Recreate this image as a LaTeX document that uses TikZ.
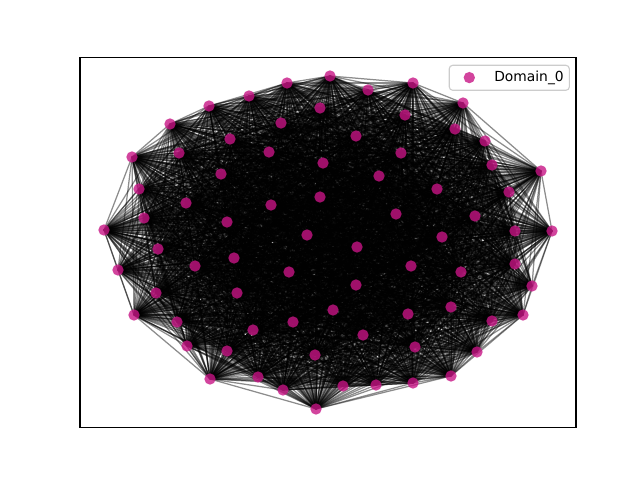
\documentclass[tikz,border=0pt]{standalone}
\usepackage{fontspec}
\setmainfont{DejaVu Sans}
\usetikzlibrary{backgrounds}
\definecolor{mvr}{RGB}{199,21,133}
\definecolor{legedge}{RGB}{204,204,204}
\tikzset{
  dot/.style={circle, fill=mvr, fill opacity=0.8, draw=none, minimum size=8.2pt, inner sep=0pt},
  edge/.style={black, opacity=0.45, line width=0.9pt},
  frame/.style={black, line width=0.8pt},
  legbox/.style={draw=legedge, line width=0.8pt, fill=white, fill opacity=0.8, rounded corners=2.5pt, minimum width=1.2in, minimum height=0.25in, inner sep=0pt},
  legtext/.style={font=\fontsize{10}{12}\selectfont, inner sep=0pt, anchor=west}
}
\begin{document}
\begin{tikzpicture}[x=0.01in, y=-0.01in]
\useasboundingbox (0,0) rectangle (640,480);
\foreach [count=\k] \x/\y in {
330/76, 368/90, 413/83, 463/103, 405/115, 455/129, 485/141, 492/165, 541/171, 509/192,
552/231, 515/231, 515/264, 532/286, 523/315, 492/321, 477/352, 451/376, 413/383, 376/385,
343/386, 316/409, 283/390, 258/377, 210/379, 187/346, 177/322, 134/315, 156/293, 118/270,
158/249, 104/230, 144/218, 139/189, 132/157, 179/153, 170/124, 209/106, 249/96, 287/83,
320/108, 281/123, 230/139, 356/136, 401/153, 269/152, 323/163, 221/174, 379/176, 437/189,
475/216, 186/203, 271/205, 320/197, 396/214, 227/222, 307/235, 357/247, 442/237, 461/272,
411/266, 195/266, 234/258, 289/272, 356/285, 237/293, 451/307, 408/314, 333/310, 293/322,
253/330, 363/335, 415/347, 227/351, 315/355}
  \node[dot] (n\k) at (\x,\y) {};
\begin{pgfonlayer}{background}
\foreach \i in {1,...,74}{
  \pgfmathtruncatemacro\s{\i+1}
  \foreach \j in {\s,...,75}{\draw[edge] (n\i.center) -- (n\j.center);}
}
\end{pgfonlayer}
\draw[frame] (80,57.6) rectangle (576,427.2);
\node[legbox] (legend) at (509.3,77.8) {};
\node[dot] (legdot) at (469.3,77.6) {};
\node[legtext] (legname) at (494,77.8) {Domain\_0};
\end{tikzpicture}
\end{document}
